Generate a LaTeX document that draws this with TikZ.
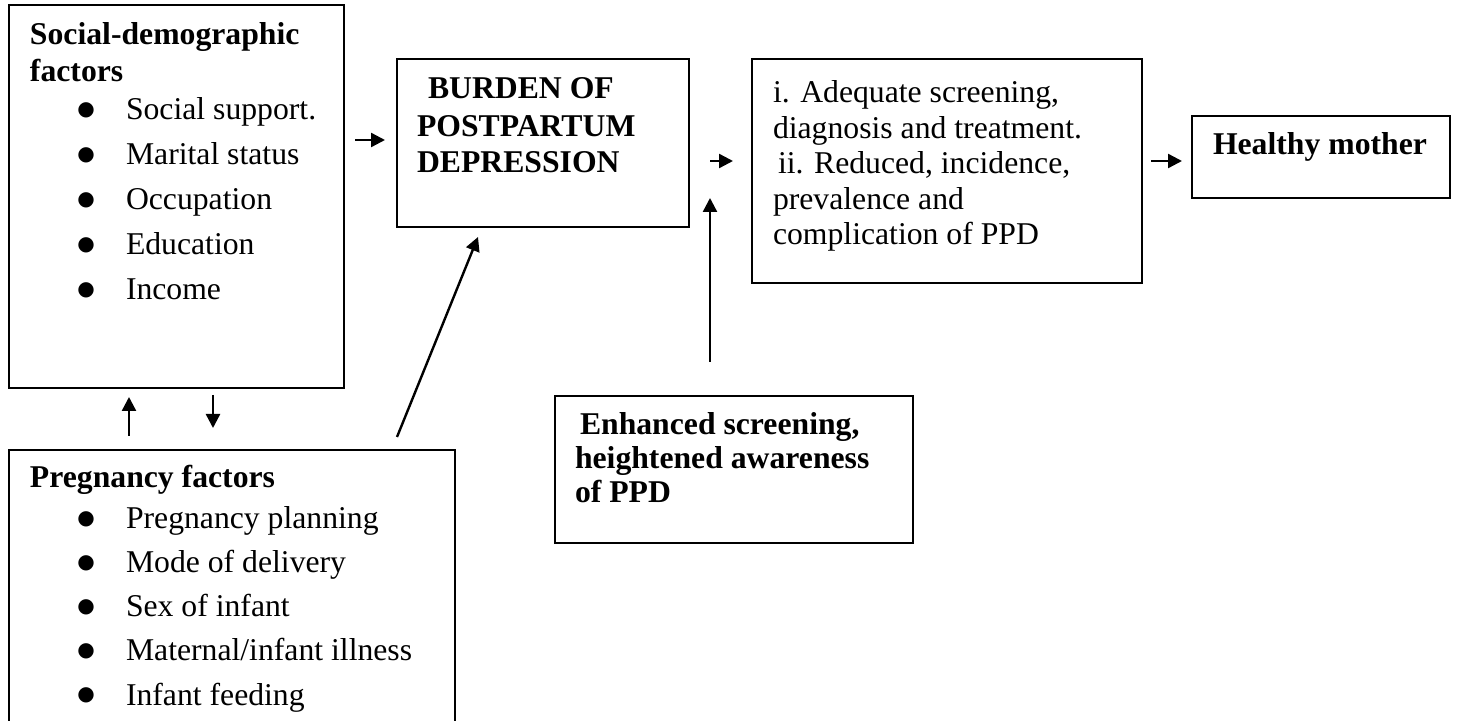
\documentclass[tikz,border=0pt]{standalone}
\usepackage{fontspec}
\setmainfont{Liberation Serif}
\newfontfamily\bulfont{DejaVu Sans}
\usetikzlibrary{arrows.meta,fit}
\begin{document}
\begin{tikzpicture}[x=0.5pt,y=-0.5pt,
  box/.style={draw,line width=1pt,inner sep=0pt,outer sep=0pt},
  txt/.style={anchor=base west,inner sep=0pt,outer sep=0pt,font=\fontsize{15.85pt}{19pt}\selectfont},
  bold/.style={txt,font=\fontsize{15.85pt}{19pt}\selectfont\bfseries},
  bul/.style={anchor=base,inner sep=0pt,outer sep=0pt,font=\bulfont\fontsize{10pt}{10pt}\selectfont},
  arr/.style={line width=1.2pt,-{Triangle[length=7pt,width=7pt]}}]
\clip (0,0) rectangle (1458,721);
\fill[white] (0,0) rectangle (1458,721);
% boxes
\node[box,fit={(9,5) (344,388)}] (social) {};
\node[box,fit={(397,59) (689,227)}] (burden) {};
\node[box,fit={(752,59) (1142,283)}] (outcome) {};
\node[box,fit={(1192,116) (1450,198)}] (healthy) {};
\node[box,fit={(555,396) (913,543)}] (enhanced) {};
\node[box,fit={(9,450) (455,760)}] (pregnancy) {};
% social text
\node[bold] (s0) at (30,45) {Social-demographic};
\node[bold] (s1) at (30,82) {factors};
\foreach \t [count=\i] in {Social support.,Marital status,Occupation,Education,Income}{
  \node[bul] (sb\i) at (86,{71+45*\i}) {●};
  \node[txt] (st\i) at (126,{75+45*\i}) {\t};
}
% pregnancy text
\node[bold] (p0) at (30,488) {Pregnancy factors};
\foreach \t [count=\i] in {Pregnancy planning,Mode of delivery,Sex of infant,Maternal/infant illness,Infant feeding}{
  \node[bul] (pb\i) at (86,{480+44.2*\i}) {●};
  \node[txt] (pt\i) at (126,{484+44.2*\i}) {\t};
}
% burden text
\node[bold] (b1) at (428,99) {BURDEN OF};
\node[bold] (b2) at (417,137) {POSTPARTUM};
\node[bold] (b3) at (417,173) {DEPRESSION};
% outcome text
\node[txt] (o1) at (773,103) {i. Adequate screening,};
\node[txt] (o2) at (773,138.5) {diagnosis and treatment.};
\node[txt] (o3) at (778,174) {ii. Reduced, incidence,};
\node[txt] (o4) at (773,209.5) {prevalence and};
\node[txt] (o5) at (773,245) {complication of PPD};
% healthy
\node[bold] (h1) at (1213,155) {Healthy mother};
% enhanced
\node[bold] (e1) at (580,435) {Enhanced screening,};
\node[bold] (e2) at (575,469) {heightened awareness};
\node[bold] (e3) at (575,503) {of PPD};
% connector helper coordinates
\coordinate (y1) at (0,140);
\coordinate (y2) at (0,161);
\coordinate (x1) at (129,0);
\coordinate (x2) at (213,0);
\coordinate (x3) at (710,0);
\coordinate (vtip) at (710,198);
\coordinate (d0) at (397,437);
\coordinate (d1) at (478,237);
% connectors
\draw[arr,shorten <=5.5pt,shorten >=6pt] (social.east|-y1) -- (burden.west|-y1);
\draw[arr,shorten <=10.5pt,shorten >=9.5pt] (burden.east|-y2) -- (outcome.west|-y2);
\draw[arr,shorten <=4.5pt,shorten >=5pt] (outcome.east|-y2) -- (healthy.west|-y2);
\draw[arr,shorten <=17pt] (enhanced.north-|x3) -- (vtip);
\draw[arr,shorten <=7pt,shorten >=4.5pt] (pregnancy.north-|x1) -- (social.south-|x1);
\draw[arr,shorten <=3.5pt,shorten >=11pt] (social.south-|x2) -- (pregnancy.north-|x2);
\draw[arr] (d0) -- (d1);
\end{tikzpicture}
\end{document}
